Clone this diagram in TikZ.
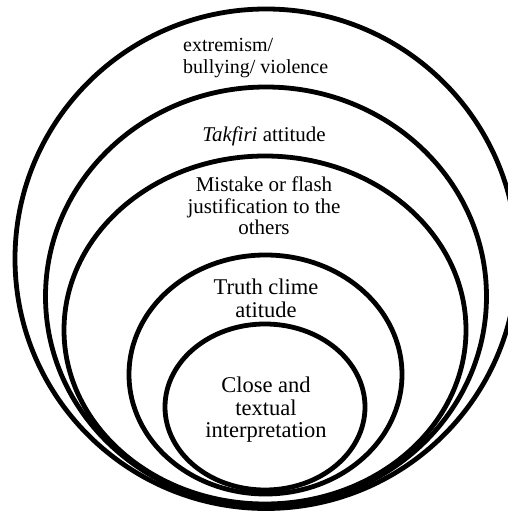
\documentclass[tikz,border=0pt]{standalone}
\usepackage{fontspec}
\setmainfont{Liberation Serif}
\usetikzlibrary{positioning}

\begin{document}
\begin{tikzpicture}[x=1pt, y=1pt,
        ring/.style={draw=black, line width=4.8pt},
        lbl/.style={inner sep=0pt, align=center, font=\fontsize{21}{21.5}\selectfont},
        biglbl/.style={lbl, font=\fontsize{22.5}{22.5}\selectfont}]
    \useasboundingbox (0,0) rectangle (507,512);
    % nested rings, all resting near the bottom
    \draw[ring] (266,253.25) ellipse [x radius=251, y radius=249.75]; % outer
    \draw[ring] (266,215.5) ellipse [x radius=220.5, y radius=209.5];
    \draw[ring] (265,182) ellipse [x radius=201, y radius=174];
    \draw[ring] (265.5,137.5) ellipse [x radius=136.5, y radius=119.5];
    \draw[ring] (265,105) ellipse [x radius=100, y radius=83]; % core

    \node[lbl, align=left, anchor=west, font=\fontsize{20}{22}\selectfont] (violence) at (183,453.5) {extremism/\\bullying/ violence};
    \node[lbl] (takfiri) at (264,375.5) {\textit{Takfiri} attitude};
    \node[lbl] (mistake) at (264,306) {Mistake or flash\\justification to the\\others};
    \node[biglbl] (truth) at (266,213.5) {Truth clime\\atitude};
    \node[biglbl] (close) at (266,102) {Close and\\textual\\interpretation};
\end{tikzpicture}
\end{document}
